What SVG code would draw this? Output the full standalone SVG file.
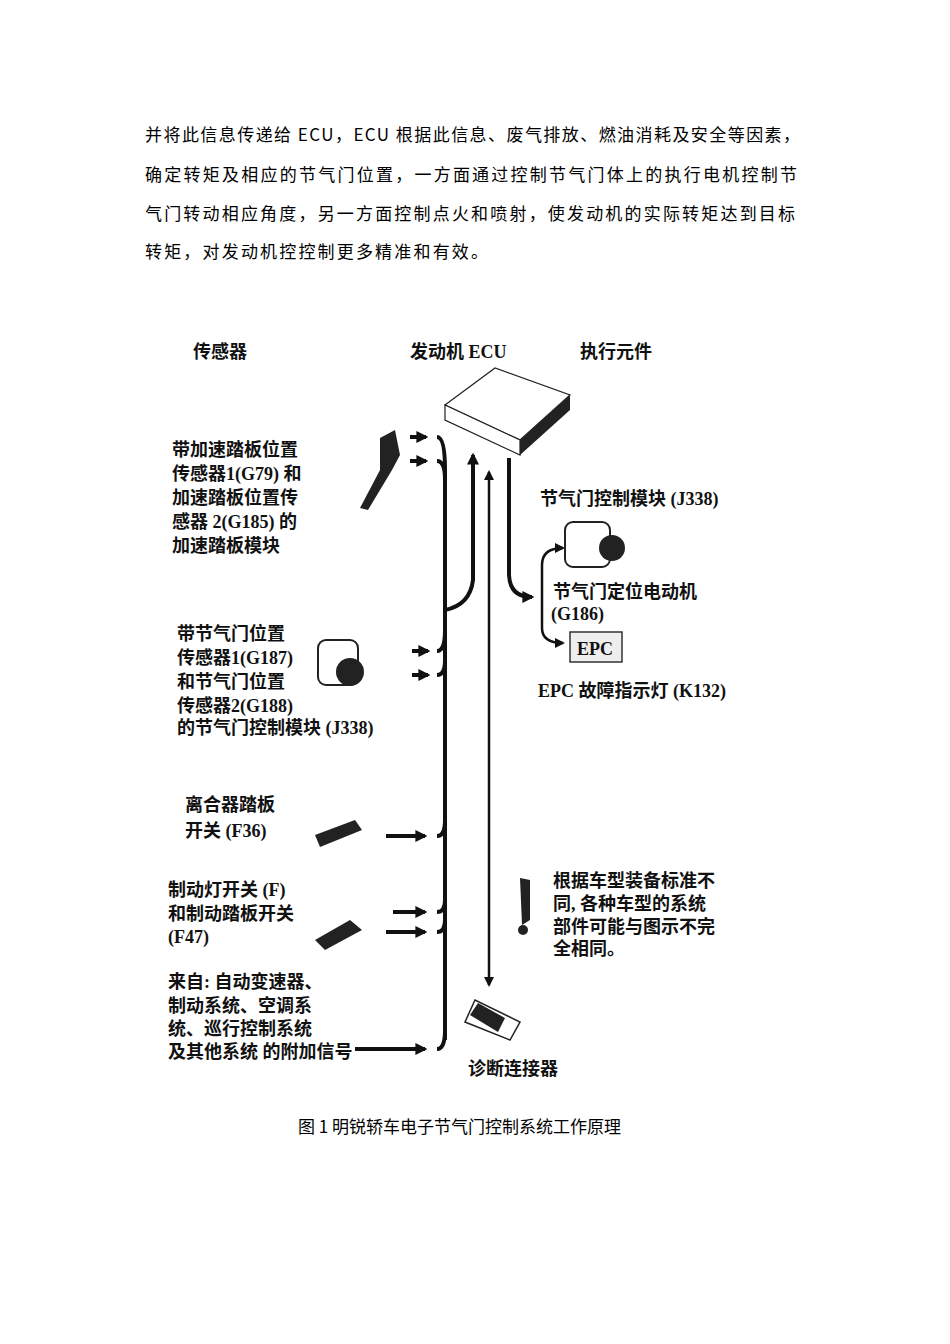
<svg xmlns="http://www.w3.org/2000/svg" width="950" height="1344" viewBox="0 0 950 1344">
<style>
.p{font-family:"Noto Sans CJK SC","Liberation Serif",serif;font-size:17px;fill:#000}
.t{font-family:"Liberation Serif","Noto Sans CJK SC",serif;font-size:18px;font-weight:bold;fill:#111}
.b{fill:none;stroke:#111;stroke-width:4}
.n{fill:none;stroke:#111;stroke-width:2.5}
.dev{fill:#222}
</style>
<defs>
<marker id="ah" viewBox="0 0 10 10" refX="8" refY="5" markerWidth="3" markerHeight="3" orient="auto"><path d="M0,0L10,5L0,10z" fill="#111"/></marker>
<marker id="as" viewBox="0 0 10 10" refX="8" refY="5" markerWidth="4" markerHeight="4" orient="auto-start-reverse"><path d="M0,0L10,5L0,10z" fill="#111"/></marker>
</defs>
<rect width="950" height="1344" fill="#fff"/>
<g id="paragraph">
<text class="p" x="145" y="141" textLength="655" lengthAdjust="spacing">并将此信息传递给 ECU，ECU 根据此信息、废气排放、燃油消耗及安全等因素，</text>
<text class="p" x="145" y="181" textLength="652" lengthAdjust="spacing">确定转矩及相应的节气门位置，一方面通过控制节气门体上的执行电机控制节</text>
<text class="p" x="145" y="220" textLength="650" lengthAdjust="spacing">气门转动相应角度，另一方面控制点火和喷射，使发动机的实际转矩达到目标</text>
<text class="p" x="145" y="258" textLength="343" lengthAdjust="spacing">转矩，对发动机控控制更多精准和有效。</text>
</g>
<g id="headers">
<text class="t" x="193" y="358">传感器</text>
<text class="t" x="410" y="358">发动机 ECU</text>
<text class="t" x="580" y="358">执行元件</text>
</g>
<g id="ecu">
<path d="M445,405 L495,368 L570,395 L520,440 Z" fill="#fff" stroke="#222" stroke-width="1.2"/>
<path d="M445,405 L445,420 L520,455 L520,440 Z" fill="#fff" stroke="#222" stroke-width="1.2"/>
<path d="M520,440 L570,395 L570,410 L520,455 Z" fill="#222"/>
</g>
<g id="pedal">
<path d="M380,438 L395,430 L400,455 L392,470 L368,510 L360,508 L380,470 Z" class="dev"/>
<text class="t" x="172" y="456">带加速踏板位置</text>
<text class="t" x="172" y="480">传感器1(G79) 和</text>
<text class="t" x="172" y="504">加速踏板位置传</text>
<text class="t" x="172" y="528">感器 2(G185) 的</text>
<text class="t" x="172" y="552">加速踏板模块</text>
</g>
<g id="tps">
<rect x="318" y="640" width="40" height="45" rx="8" fill="#fff" stroke="#222" stroke-width="2"/>
<circle cx="350" cy="672" r="14" class="dev"/>
<text class="t" x="177" y="640">带节气门位置</text>
<text class="t" x="177" y="664">传感器1(G187)</text>
<text class="t" x="177" y="688">和节气门位置</text>
<text class="t" x="177" y="712">传感器2(G188)</text>
<text class="t" x="177" y="734">的节气门控制模块 (J338)</text>
</g>
<g id="clutch">
<path d="M315,835 L355,820 L362,830 L320,847 Z" class="dev"/>
<text class="t" x="185" y="811">离合器踏板</text>
<text class="t" x="185" y="837">开关 (F36)</text>
</g>
<g id="brake">
<path d="M315,940 L350,920 L362,930 L325,950 Z" class="dev"/>
<text class="t" x="168" y="896">制动灯开关 (F)</text>
<text class="t" x="168" y="920">和制动踏板开关</text>
<text class="t" x="168" y="943">(F47)</text>
</g>
<g id="other">
<text class="t" x="168" y="988">来自: 自动变速器、</text>
<text class="t" x="168" y="1012">制动系统、空调系</text>
<text class="t" x="168" y="1035">统、巡行控制系统</text>
<text class="t" x="168" y="1058">及其他系统 的附加信号</text>
</g>
<g id="throttle">
<rect x="565" y="522" width="45" height="45" rx="8" fill="#fff" stroke="#222" stroke-width="2"/>
<circle cx="612" cy="548" r="13" class="dev"/>
<text class="t" x="540" y="505">节气门控制模块 (J338)</text>
<text class="t" x="553" y="598">节气门定位电动机</text>
<text class="t" x="551" y="620">(G186)</text>
</g>
<g id="epc">
<rect x="570" y="632" width="52" height="30" fill="#eee" stroke="#333" stroke-width="1.5"/>
<text class="t" x="577" y="655">EPC</text>
<text class="t" x="538" y="697">EPC 故障指示灯 (K132)</text>
</g>
<g id="note">
<path d="M520,878 L530,880 L530,920 L522,925 Z" class="dev"/>
<circle cx="523" cy="930" r="5" class="dev"/>
<text class="t" x="553" y="887">根据车型装备标准不</text>
<text class="t" x="553" y="910">同, 各种车型的系统</text>
<text class="t" x="553" y="933">部件可能与图示不完</text>
<text class="t" x="553" y="955">全相同。</text>
</g>
<g id="diag">
<path d="M465,1022 L475,1000 L520,1022 L510,1040 Z" fill="#fff" stroke="#222" stroke-width="1.5"/>
<path d="M470,1015 L478,1003 L505,1018 L498,1032 Z" fill="#222"/>
<text class="t" x="468" y="1075">诊断连接器</text>
</g>
<g id="connectors">
<path class="b" d="M445,1040 L445,470 Q445,437 437,437"/>
<path class="b" d="M445,480 Q445,461 437,461"/>
<path class="b" d="M445,630 Q445,651 437,651"/>
<path class="b" d="M445,660 Q445,675 437,675"/>
<path class="b" d="M445,820 Q445,836 437,836"/>
<path class="b" d="M445,900 Q445,912 437,912"/>
<path class="b" d="M445,920 Q445,932 437,932"/>
<path class="b" d="M445,1030 Q445,1049 437,1049"/>
<path class="b" d="M445,610 Q470,605 473,580 L473,455" marker-end="url(#ah)"/>
<path class="n" d="M489,985 L489,472" marker-start="url(#as)" marker-end="url(#as)"/>
<path class="b" d="M509,458 L509,575 Q510,597 532,597" marker-end="url(#ah)"/>
<path class="n" d="M563,548 Q542,548 542,565 L542,628 Q542,643 563,643" marker-start="url(#as)" marker-end="url(#as)"/>
<path class="b" d="M410,437 L426,437" marker-end="url(#ah)"/>
<path class="b" d="M410,461 L426,461" marker-end="url(#ah)"/>
<path class="b" d="M412,651 L428,651" marker-end="url(#ah)"/>
<path class="b" d="M412,675 L428,675" marker-end="url(#ah)"/>
<path class="b" d="M386,836 L425,836" marker-end="url(#ah)"/>
<path class="b" d="M393,912 L425,912" marker-end="url(#ah)"/>
<path class="b" d="M386,932 L425,932" marker-end="url(#ah)"/>
<path class="b" d="M355,1049 L425,1049" marker-end="url(#ah)"/>
</g>
<text class="p" x="298" y="1133">图 1 明锐轿车电子节气门控制系统工作原理</text>
</svg>
